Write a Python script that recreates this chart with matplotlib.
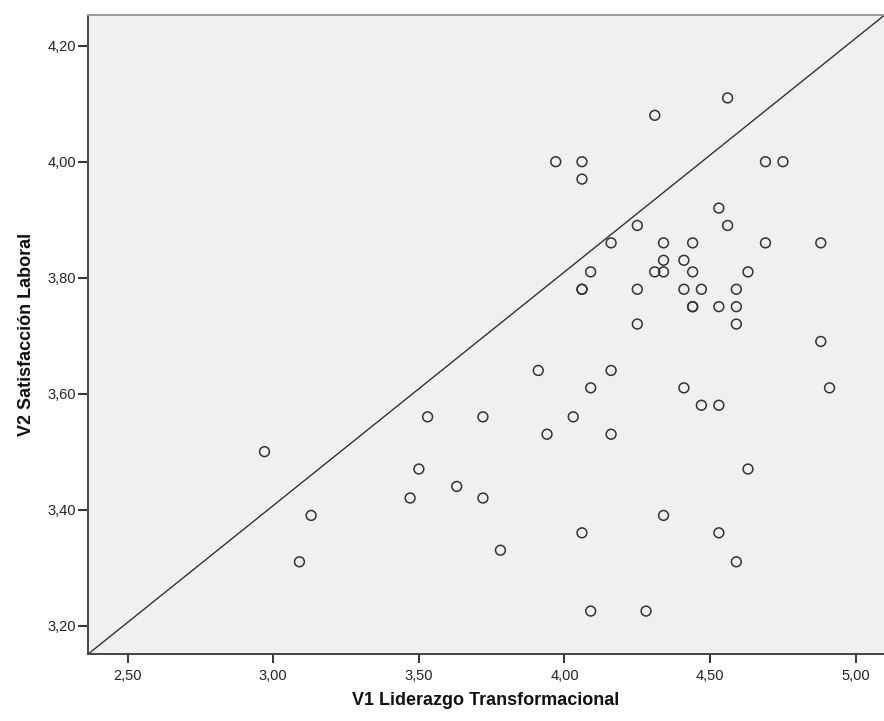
import matplotlib
matplotlib.use('Agg')
import matplotlib.pyplot as plt
from matplotlib.ticker import FuncFormatter

# V1 Liderazgo Transformacional (x) y V2 Satisfacción Laboral (y)
v1_liderazgo = [
    4.56, 4.31, 3.97, 4.06, 4.06, 4.69, 4.75, 4.53, 4.25, 4.56,
    4.16, 4.34, 4.44, 4.69, 4.88, 4.34, 4.41, 4.09, 4.31, 4.34,
    4.44, 4.63, 4.06, 4.06, 4.25, 4.41, 4.47, 4.59, 4.44, 4.44,
    4.53, 4.59, 4.25, 4.59, 4.88, 3.91, 4.16, 4.09, 4.41, 4.91,
    4.47, 4.53, 3.53, 3.72, 4.03, 3.94, 4.16, 2.97, 3.50, 4.63,
    3.63, 3.47, 3.72, 3.13, 4.34, 4.06, 4.53, 3.78, 3.09, 4.59,
    4.09, 4.28,
]
v2_satisfaccion = [
    4.11, 4.08, 4.00, 4.00, 3.97, 4.00, 4.00, 3.92, 3.89, 3.89,
    3.86, 3.86, 3.86, 3.86, 3.86, 3.83, 3.83, 3.81, 3.81, 3.81,
    3.81, 3.81, 3.78, 3.78, 3.78, 3.78, 3.78, 3.78, 3.75, 3.75,
    3.75, 3.75, 3.72, 3.72, 3.69, 3.64, 3.64, 3.61, 3.61, 3.61,
    3.58, 3.58, 3.56, 3.56, 3.56, 3.53, 3.53, 3.50, 3.47, 3.47,
    3.44, 3.42, 3.42, 3.39, 3.39, 3.36, 3.36, 3.33, 3.31, 3.31,
    3.225, 3.225,
]

# linea de referencia
ref_intercept = 2.198
ref_slope = 0.403

x_ticks = [2.5, 3.0, 3.5, 4.0, 4.5, 5.0]
y_ticks = [3.2, 3.4, 3.6, 3.8, 4.0, 4.2]

plt.rcParams['font.family'] = ['Liberation Sans', 'DejaVu Sans']

fig = plt.figure(figsize=(8.84, 7.21), dpi=100)
ax = fig.add_axes([88 / 884, 67 / 721, 796 / 884, 639 / 721])
ax.set_facecolor('#f0f0f0')

ax.axline((0, ref_intercept), slope=ref_slope, color='#333333', linewidth=1.0, zorder=2)
ax.scatter(v1_liderazgo, v2_satisfaccion, s=50, facecolors='none',
           edgecolors='#333333', linewidths=1.1, zorder=3)

ax.set_xlim(2.364, 5.097)
ax.set_ylim(3.151, 4.253)
ax.set_xticks(x_ticks)
ax.set_yticks(y_ticks)
coma = FuncFormatter(lambda v, pos: f'{v:.2f}'.replace('.', ','))
ax.xaxis.set_major_formatter(coma)
ax.yaxis.set_major_formatter(coma)

ax.tick_params(axis='x', direction='out', length=6.5, width=1.4, pad=4,
               labelsize=10.5, colors='#333333', labelcolor='#222222')
ax.tick_params(axis='y', direction='out', length=7.5, width=1.4, pad=1,
               labelsize=10.5, colors='#333333', labelcolor='#222222')

for side in ['left', 'bottom']:
    ax.spines[side].set_color('#444444')
    ax.spines[side].set_linewidth(1.4)
ax.spines['top'].set_color('#999999')
ax.spines['top'].set_linewidth(1.4)
ax.spines['right'].set_visible(False)

ax.set_xlabel('V1 Liderazgo Transformacional', fontsize=13, fontweight='bold',
              color='#111111', labelpad=7)
ax.set_ylabel('V2 Satisfacción Laboral', fontsize=13, fontweight='bold',
              color='#111111', labelpad=9)

plt.savefig('out.png', dpi=100)
plt.close()
